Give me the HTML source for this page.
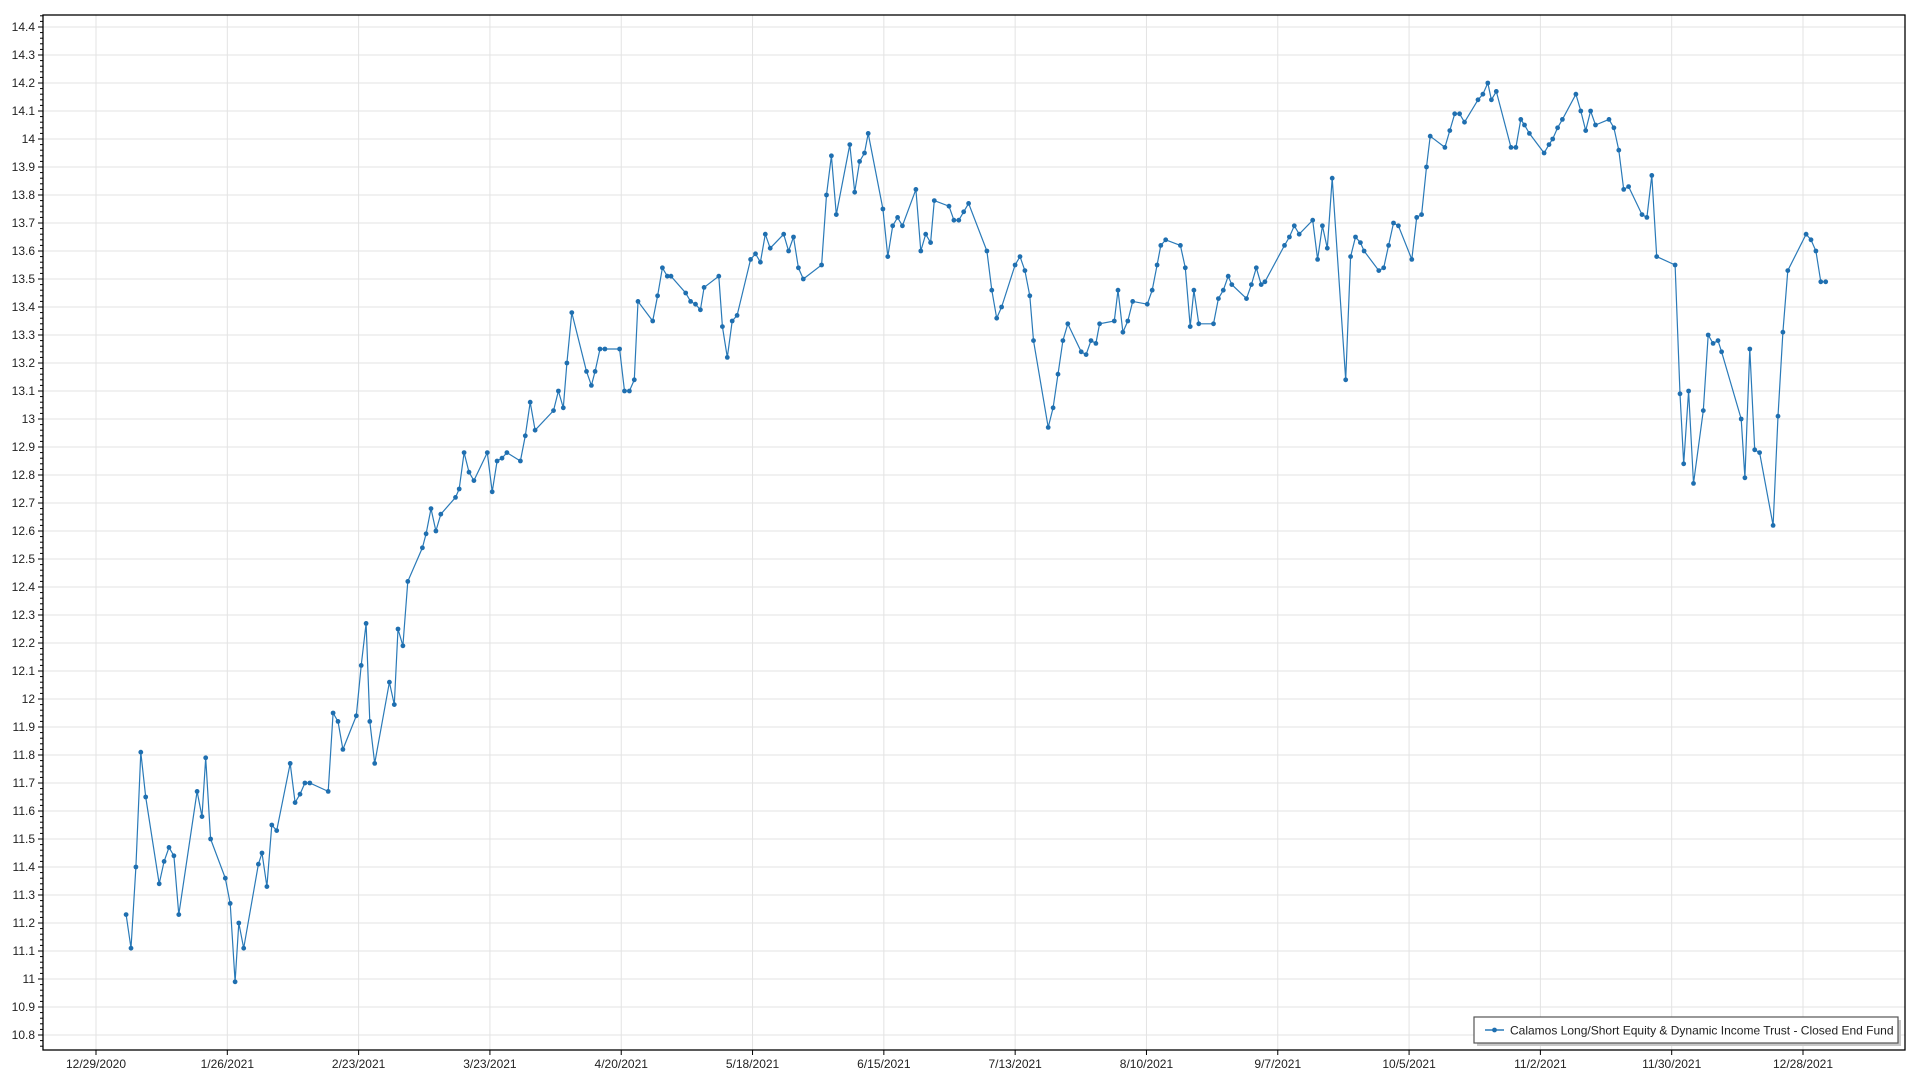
<!DOCTYPE html>
<html><head><meta charset="utf-8"><style>
html,body{margin:0;padding:0;background:#fff;}
svg{display:block;font-family:"Liberation Sans",sans-serif;}
</style></head><body>
<svg id="c" width="1920" height="1080" xmlns="http://www.w3.org/2000/svg"></svg>
<script>
const svg=document.getElementById('c');
const L=43,R=1905,T=15,B=1050;
const yv=v=>27+(14.4-v)*280;
const S=1920/1568;
let h='';
// grid
for(let i=0;i<=36;i++){const v=10.8+i*0.1;const y=yv(v);if(y<T||y>B)continue;
 h+=`<line x1="${L}" x2="${R}" y1="${y}" y2="${y}" stroke="#e3e3e3" stroke-width="1"/>`;}
const dates=["12/29/2020","1/26/2021","2/23/2021","3/23/2021","4/20/2021","5/18/2021","6/15/2021","7/13/2021","8/10/2021","9/7/2021","10/5/2021","11/2/2021","11/30/2021","12/28/2021"];
const dx=(1803-96)/13;
dates.forEach((d,i)=>{const x=96+i*dx;
 h+=`<line x1="${x}" x2="${x}" y1="${T}" y2="${B}" stroke="#e3e3e3"/>`;
 h+=`<line x1="${x}" x2="${x}" y1="${B}" y2="${B+5}" stroke="#000"/>`;
 h+=`<text x="${x}" y="${B+18}" font-size="12" text-anchor="middle" fill="#222">${d}</text>`;});
// y ticks
for(let i=0;i<=185;i++){const v=10.76+i*0.02;const y=yv(v);if(y<T||y>B)continue;
 const maj=Math.abs(Math.round(v*10)-v*10)<0.001;
 h+=`<line x1="${L-(maj?5:3)}" x2="${L}" y1="${y}" y2="${y}" stroke="#000"/>`;
 if(maj){let t=(Math.round(v*10)/10).toString();
 h+=`<text x="${L-8}" y="${y+4}" font-size="12" text-anchor="end" fill="#222">${t}</text>`;}}
const d=[[103,11.23],[107,11.11],[111,11.40],[115,11.81],[119,11.65],[130,11.34],[134,11.42],[138,11.47],[142,11.44],[146,11.23],[161,11.67],[165,11.58],[168,11.79],[172,11.50],[184,11.36],[188,11.27],[192,10.99],[195,11.20],[199,11.11],[211,11.41],[214,11.45],[218,11.33],[222,11.55],[226,11.53],[237,11.77],[241,11.63],[245,11.66],[249,11.70],[253,11.70],[268,11.67],[272,11.95],[276,11.92],[280,11.82],[291,11.94],[295,12.12],[299,12.27],[302,11.92],[306,11.77],[318,12.06],[322,11.98],[325,12.25],[329,12.19],[333,12.42],[345,12.54],[348,12.59],[352,12.68],[356,12.60],[360,12.66],[372,12.72],[375,12.75],[379,12.88],[383,12.81],[387,12.78],[398,12.88],[402,12.74],[406,12.85],[410,12.86],[414,12.88],[425,12.85],[429,12.94],[433,13.06],[437,12.96],[452,13.03],[456,13.10],[460,13.04],[463,13.20],[467,13.38],[479,13.17],[483,13.12],[486,13.17],[490,13.25],[494,13.25],[506,13.25],[510,13.10],[514,13.10],[518,13.14],[521,13.42],[533,13.35],[537,13.44],[541,13.54],[545,13.51],[548,13.51],[560,13.45],[564,13.42],[568,13.41],[572,13.39],[575,13.47],[587,13.51],[590,13.33],[594,13.22],[598,13.35],[602,13.37],[613,13.57],[617,13.59],[621,13.56],[625,13.66],[629,13.61],[640,13.66],[644,13.60],[648,13.65],[652,13.54],[656,13.50],[671,13.55],[675,13.80],[679,13.94],[683,13.73],[694,13.98],[698,13.81],[702,13.92],[706,13.95],[709,14.02],[721,13.75],[725,13.58],[729,13.69],[733,13.72],[737,13.69],[748,13.82],[752,13.60],[756,13.66],[760,13.63],[763,13.78],[775,13.76],[779,13.71],[783,13.71],[787,13.74],[791,13.77],[806,13.60],[810,13.46],[814,13.36],[818,13.40],[829,13.55],[833,13.58],[837,13.53],[841,13.44],[844,13.28],[856,12.97],[860,13.04],[864,13.16],[868,13.28],[872,13.34],[883,13.24],[887,13.23],[891,13.28],[895,13.27],[898,13.34],[910,13.35],[913,13.46],[917,13.31],[921,13.35],[925,13.42],[937,13.41],[941,13.46],[945,13.55],[948,13.62],[952,13.64],[964,13.62],[968,13.54],[972,13.33],[975,13.46],[979,13.34],[991,13.34],[995,13.43],[999,13.46],[1003,13.51],[1006,13.48],[1018,13.43],[1022,13.48],[1026,13.54],[1030,13.48],[1033,13.49],[1049,13.62],[1053,13.65],[1057,13.69],[1061,13.66],[1072,13.71],[1076,13.57],[1080,13.69],[1084,13.61],[1088,13.86],[1099,13.14],[1103,13.58],[1107,13.65],[1111,13.63],[1114,13.60],[1126,13.53],[1130,13.54],[1134,13.62],[1138,13.70],[1142,13.69],[1153,13.57],[1157,13.72],[1161,13.73],[1165,13.90],[1168,14.01],[1180,13.97],[1184,14.03],[1188,14.09],[1192,14.09],[1196,14.06],[1207,14.14],[1211,14.16],[1215,14.20],[1218,14.14],[1222,14.17],[1234,13.97],[1238,13.97],[1242,14.07],[1245,14.05],[1249,14.02],[1261,13.95],[1265,13.98],[1268,14.00],[1272,14.04],[1276,14.07],[1287,14.16],[1291,14.10],[1295,14.03],[1299,14.10],[1303,14.05],[1314,14.07],[1318,14.04],[1322,13.96],[1326,13.82],[1330,13.83],[1341,13.73],[1345,13.72],[1349,13.87],[1353,13.58],[1368,13.55],[1372,13.09],[1375,12.84],[1379,13.10],[1383,12.77],[1391,13.03],[1395,13.30],[1399,13.27],[1403,13.28],[1406,13.24],[1422,13.00],[1425,12.79],[1429,13.25],[1433,12.89],[1437,12.88],[1448,12.62],[1452,13.01],[1456,13.31],[1460,13.53],[1475,13.66],[1479,13.64],[1483,13.60],[1487,13.49],[1491,13.49]];
const pts=d.map(p=>[(p[0]*S).toFixed(1),yv(p[1]).toFixed(1)]);
h+=`<polyline fill="none" stroke="#2a7ab8" stroke-width="1.2" points="${pts.map(p=>p.join(',')).join(' ')}"/>`;
pts.forEach(p=>h+=`<circle cx="${p[0]}" cy="${p[1]}" r="2.4" fill="#1f6fb0"/>`);
// axes frame
h+=`<rect x="${L}" y="${T}" width="${R-L}" height="${B-T}" fill="none" stroke="#000" stroke-width="1.3"/>`;
// legend
h+=`<rect x="1477" y="1020" width="424" height="26" fill="#c8c8c8"/>`;
h+=`<rect x="1474" y="1017" width="424" height="26" fill="#fff" stroke="#555" stroke-width="1.2"/>`;
h+=`<line x1="1485" x2="1504" y1="1030" y2="1030" stroke="#2a7ab8" stroke-width="1.5"/><circle cx="1494.5" cy="1030" r="2.4" fill="#1f6fb0"/>`;
h+=`<text x="1510" y="1034.5" font-size="12" fill="#222">Calamos Long/Short Equity &amp; Dynamic Income Trust - Closed End Fund</text>`;
svg.innerHTML=h;
</script>
</body></html>
